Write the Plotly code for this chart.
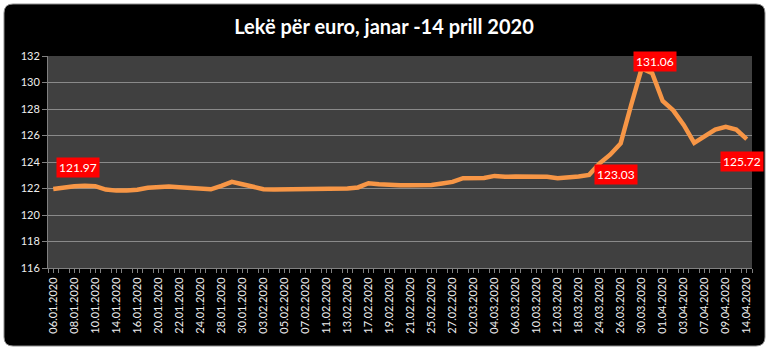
import plotly.graph_objects as go

dates = ["06.01.2020","07.01.2020","08.01.2020","09.01.2020","10.01.2020","13.01.2020","14.01.2020","15.01.2020",
         "16.01.2020","17.01.2020","20.01.2020","21.01.2020","22.01.2020","23.01.2020","24.01.2020","27.01.2020",
         "28.01.2020","29.01.2020","30.01.2020","31.01.2020",
         "03.02.2020","04.02.2020","05.02.2020","06.02.2020","07.02.2020","10.02.2020","11.02.2020","12.02.2020",
         "13.02.2020","14.02.2020","17.02.2020","18.02.2020","19.02.2020","20.02.2020","21.02.2020","24.02.2020",
         "25.02.2020","26.02.2020","27.02.2020","28.02.2020",
         "02.03.2020","03.03.2020","04.03.2020","05.03.2020","06.03.2020","09.03.2020","10.03.2020","11.03.2020",
         "12.03.2020","13.03.2020","18.03.2020","20.03.2020","24.03.2020","25.03.2020","26.03.2020","27.03.2020",
         "30.03.2020","31.03.2020","01.04.2020","02.04.2020","03.04.2020","06.04.2020","07.04.2020","08.04.2020",
         "09.04.2020","10.04.2020","14.04.2020"]

rates = [121.97,122.10,122.17,122.20,122.18,121.92,121.84,121.85,
         121.90,122.05,122.13,122.15,122.10,122.03,122.00,121.94,
         122.20,122.50,122.32,122.15,
         121.95,121.93,121.93,121.93,121.93,121.93,121.93,121.94,
         122.00,122.08,122.40,122.32,122.25,122.25,122.25,122.27,
         122.27,122.38,122.50,122.78,
         122.80,122.80,122.95,122.88,122.90,122.90,122.90,122.88,
         122.78,122.83,122.90,123.03,123.90,124.55,125.40,128.30,
         131.06,130.70,128.60,127.90,126.80,125.45,125.95,126.45,
         126.65,126.45,125.72]

label_idx = [0, 51, 56, 66]
label_shift = {0: (25, 21), 51: (27, 0), 56: (13, 7), 66: (-5, -22)}

y_ticks = [116, 118, 120, 122, 124, 126, 128, 130, 132]

title_text = "Lekë për euro, janar -14 prill 2020"

W, H = 768, 353
ML, MR, MT, MB = 48, 16, 56, 85
PW, PH = W - ML - MR, H - MT - MB

def fx(px):
    return (px - ML) / PW

def fy(py):
    return (H - MB - py) / PH

x_idx = list(range(len(dates)))

fig = go.Figure()
fig.add_trace(go.Scatter(
    x=x_idx, y=rates, mode="lines",
    line=dict(color="#F79646", width=4.5),
    hoverinfo="skip", showlegend=False,
))

for i in label_idx:
    dx, dy = label_shift[i]
    fig.add_annotation(
        x=i, y=rates[i], xref="x", yref="y",
        text=f"{rates[i]:.2f}", showarrow=False,
        xshift=dx, yshift=dy,
        bgcolor="#FF0000", borderpad=2,
        font=dict(family="Lato", size=12, color="white"),
    )

# outer rounded black frame
x0, y0, x1, y1, r = 4, 4, 765, 346, 9
path = (f"M {fx(x0+r)},{fy(y0)} L {fx(x1-r)},{fy(y0)} Q {fx(x1)},{fy(y0)} {fx(x1)},{fy(y0+r)} "
        f"L {fx(x1)},{fy(y1-r)} Q {fx(x1)},{fy(y1)} {fx(x1-r)},{fy(y1)} "
        f"L {fx(x0+r)},{fy(y1)} Q {fx(x0)},{fy(y1)} {fx(x0)},{fy(y1-r)} "
        f"L {fx(x0)},{fy(y0+r)} Q {fx(x0)},{fy(y0)} {fx(x0+r)},{fy(y0)} Z")
fig.add_shape(type="path", path=path, xref="paper", yref="paper",
              fillcolor="black", line=dict(color="#8c8c8c", width=1), layer="below")
# plot-area background (drawn above the frame)
fig.add_shape(type="rect", x0=0, x1=1, y0=0, y1=1, xref="paper", yref="paper",
              fillcolor="#404040", line=dict(width=0), layer="below")

fig.update_layout(
    width=W, height=H,
    margin=dict(l=ML, r=MR, t=MT, b=MB),
    paper_bgcolor="white",
    plot_bgcolor="rgba(0,0,0,0)",
    title=dict(text=title_text, x=0.5, xref="container", xanchor="center",
               y=1 - 27 / H, yref="container", yanchor="middle",
               font=dict(family="Lato", size=20, color="white", weight="bold")),
    xaxis=dict(
        range=[-0.5, len(dates) - 0.5],
        tickmode="array", tickvals=x_idx[::2], ticktext=dates[::2],
        tickangle=-90, ticks="outside", ticklen=4, tickcolor="#808080",
        showgrid=False, zeroline=False,
        showline=True, linecolor="#808080", linewidth=1,
        tickfont=dict(family="Lato", size=11, color="#eeeeee"),
        minor=dict(tickmode="linear", tick0=-0.5, dtick=1, ticks="outside",
                   ticklen=4, tickcolor="#808080", showgrid=False),
    ),
    yaxis=dict(
        range=[116, 132], tickmode="array", tickvals=y_ticks,
        ticks="outside", ticklen=5, tickcolor="#808080",
        showgrid=True, gridcolor="#8a8a8a", gridwidth=1,
        zeroline=False, showline=True, linecolor="#808080", linewidth=1,
        tickfont=dict(family="Lato", size=11, color="#eeeeee"),
    ),
)

fig.write_html("out.html")
